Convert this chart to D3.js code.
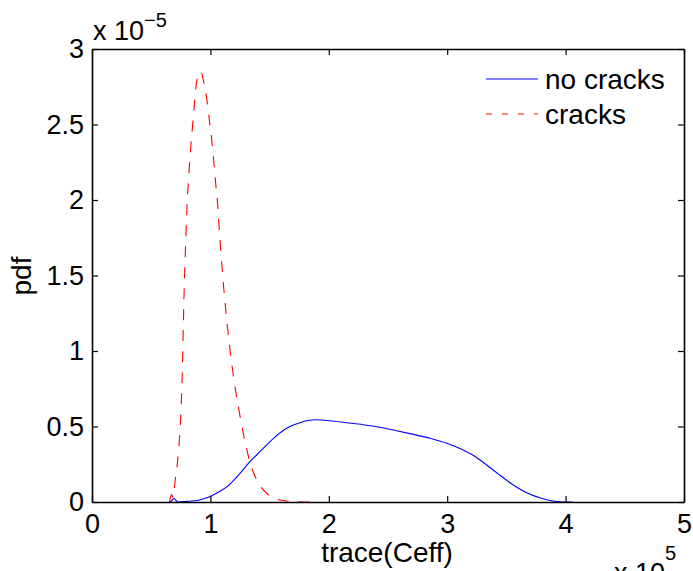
<!DOCTYPE html>
<html><head><meta charset="utf-8">
<script src="https://cdn.jsdelivr.net/npm/d3@7"></script>
<style>
html,body{margin:0;padding:0;background:#fff;}
svg text{font-family:"Liberation Sans",Arial,Helvetica,sans-serif;fill:#000;}
</style></head>
<body>
<svg id="chart" width="693" height="571"></svg>
<script>
// x in units of 1e5, y in units of 1e-5
const xTicks = [0, 1, 2, 3, 4, 5];
const yTicks = [0, 0.5, 1, 1.5, 2, 2.5, 3];
const yTickLabels = ["0", "0.5", "1", "1.5", "2", "2.5", "3"];
const seriesNames = ["no cracks", "cracks"];

const noCracksX = [0.66,0.675,0.693,0.71,0.726,0.80,0.90,0.982,1.05,1.138,1.25,1.334,1.419,1.531,1.644,1.70,1.757,1.813,1.898,2.01,2.151,2.29,2.432,2.573,2.714,2.855,2.996,3.136,3.22,3.30,3.418,3.558,3.70,3.79,3.87,3.95,4.02,4.06];
const noCracksY = [0,0.01,0.025,0.01,0,0.004,0.012,0.031,0.058,0.10,0.19,0.267,0.333,0.42,0.488,0.51,0.525,0.538,0.545,0.538,0.525,0.512,0.495,0.472,0.448,0.422,0.389,0.344,0.310,0.265,0.194,0.113,0.051,0.026,0.01,0.002,0,0];

const cracksX = [0.655,0.672,0.685,0.70,0.729,0.752,0.763,0.771,0.781,0.791,0.805,0.817,0.830,0.845,0.861,0.878,0.899,0.918,0.94,0.969,0.991,1.011,1.030,1.047,1.064,1.075,1.087,1.101,1.138,1.166,1.199,1.236,1.278,1.329,1.391,1.475,1.588,1.73,1.85];
const cracksY = [0,0.05,0.03,0.126,0.325,0.609,0.874,1.16,1.48,1.71,2.0,2.155,2.31,2.45,2.60,2.75,2.83,2.85,2.795,2.67,2.53,2.40,2.24,2.09,1.945,1.80,1.67,1.525,1.205,1.007,0.808,0.631,0.455,0.278,0.146,0.058,0.013,0.002,0];

const svg = d3.select("#chart");
const L = 92, R = 684, T = 49, B = 502;
const x = d3.scaleLinear().domain([0, 5]).range([L, R]);
const y = d3.scaleLinear().domain([0, 3]).range([B, T]);
const fs = 27, fsLab = 28;

const line = d3.line().x(d => x(d[0])).y(d => y(d[1])).curve(d3.curveMonotoneX);

// curves
svg.append("path").datum(noCracksX.map((v,i)=>[v,noCracksY[i]]))
  .attr("d", line).attr("fill","none").attr("stroke","#0000ff").attr("stroke-width",1.1);
svg.append("path").datum(cracksX.map((v,i)=>[v,cracksY[i]]))
  .attr("d", line).attr("fill","none").attr("stroke","#ff0000").attr("stroke-width",1.1)
  .attr("stroke-dasharray","11,10");

// axes (ticks inward)
const tickLen = 6;
const gB = svg.append("g").attr("transform",`translate(0,${B})`)
  .call(d3.axisBottom(x).tickValues(xTicks).tickSizeInner(-tickLen).tickSizeOuter(0).tickPadding(12).tickFormat(d3.format("d")));
const gT = svg.append("g").attr("transform",`translate(0,${T})`)
  .call(d3.axisTop(x).tickValues(xTicks).tickSizeInner(-tickLen).tickSizeOuter(0).tickFormat(""));
const gL = svg.append("g").attr("transform",`translate(${L},0)`)
  .call(d3.axisLeft(y).tickValues(yTicks).tickSizeInner(-tickLen).tickSizeOuter(0).tickPadding(8).tickFormat((d,i)=>yTickLabels[i]));
const gR = svg.append("g").attr("transform",`translate(${R},0)`)
  .call(d3.axisRight(y).tickValues(yTicks).tickSizeInner(-tickLen).tickSizeOuter(0).tickFormat(""));
[gB,gT,gL,gR].forEach(g=>{
  g.select(".domain").attr("stroke","#000").attr("stroke-width",1.6);
  g.selectAll(".tick line").attr("stroke","#000").attr("stroke-width",1.2);
  g.selectAll("text").attr("font-size",fs).attr("font-family",null).attr("fill","#000");
});
gB.selectAll("text").attr("dy","0.71em");

// exponent labels
const t1 = svg.append("text").attr("x",93).attr("y",40).attr("font-size",fs);
t1.append("tspan").text("x 10");
t1.append("tspan").attr("dy",-13).attr("font-size",20).text("\u22125");
const t2 = svg.append("text").attr("x",614).attr("y",582).attr("font-size",fs);
t2.append("tspan").text("x 10");
t2.append("tspan").attr("dy",-22).attr("font-size",20).text("5");

// axis titles
svg.append("text").attr("x",387).attr("y",562).attr("text-anchor","middle").attr("font-size",fsLab).text("trace(Ceff)");
svg.append("text").attr("transform","translate(31,276) rotate(-90)").attr("text-anchor","middle").attr("font-size",fsLab).text("pdf");

// legend
const leg = svg.append("g");
const legY = [79, 114];
const legStyles = [{c:"#0000ff",d:null},{c:"#ff0000",d:"6,10"}];
seriesNames.forEach((n,i)=>{
  leg.append("line").attr("x1",486).attr("x2",538).attr("y1",legY[i]).attr("y2",legY[i])
    .attr("stroke",legStyles[i].c).attr("stroke-width",1.1).attr("stroke-dasharray",legStyles[i].d);
  leg.append("text").attr("x",545).attr("y",legY[i]).attr("dy","0.35em").attr("font-size",fsLab).text(n);
});
</script>
</body></html>
